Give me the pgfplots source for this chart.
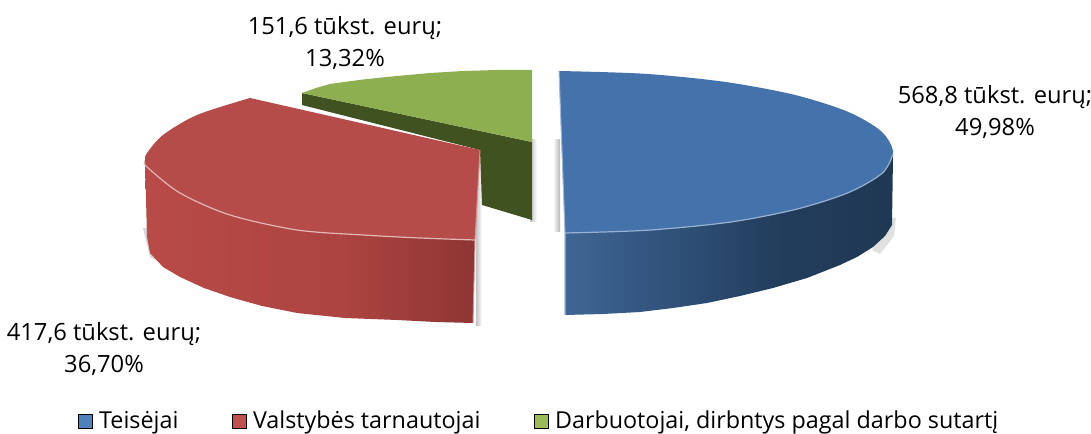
\documentclass[border=0pt]{standalone}
\usepackage{pgfplots}
\pgfplotsset{compat=1.18}
\usepackage{fontspec}
\setmainfont{Open Sans}
\definecolor{bTop}{HTML}{4472AB}
\definecolor{bS1}{HTML}{3F6694}
\definecolor{bS2}{HTML}{2F5078}
\definecolor{bS3}{HTML}{223D5C}
\definecolor{bS4}{HTML}{1F3853}
\definecolor{rTop}{HTML}{B64C49}
\definecolor{rS1}{HTML}{B84A47}
\definecolor{rS2}{HTML}{AC4441}
\definecolor{rS3}{HTML}{8E3533}
\definecolor{gTop}{HTML}{8EAF50}
\definecolor{gSide}{HTML}{3F5220}
\definecolor{lgB}{HTML}{4F81BD}
\definecolor{lgR}{HTML}{C0504D}
\definecolor{lgG}{HTML}{9BBB59}
\pgfdeclarehorizontalshading{blueside}{100bp}{color(0bp)=(bS1); color(25bp)=(bS1); color(42bp)=(bS2); color(58bp)=(bS3); color(75bp)=(bS4); color(100bp)=(bS4)}
\pgfdeclarehorizontalshading{redside}{100bp}{color(0bp)=(rS1); color(25bp)=(rS1); color(55bp)=(rS2); color(75bp)=(rS3); color(100bp)=(rS3)}
\begin{document}
\begin{tikzpicture}
\begin{axis}[
  scale only axis, width=818.25pt, height=325.5pt,
  xmin=0, xmax=1091, ymin=0, ymax=434, y dir=reverse,
  hide axis, clip=false,
  legend columns=3,
  legend style={draw=none, fill=none, inner sep=0pt, outer sep=0pt,
    at={(axis cs:78,433.5)}, anchor=south west, font=\fontsize{17.5}{21}\selectfont,
    /tikz/every even column/.style={column sep=38pt},
    /tikz/every odd column/.style={column sep=0pt}},
  legend cell align=left,
  legend image code/.code={\fill[#1] (0pt,-5.25pt) rectangle (10.5pt,5.25pt); \path (13.5pt,0pt);},
]
% soft shadows
\addplot[draw=none, shade, left color=white, right color=black!28, forget plot] coordinates {(553,140)(560,140)(560,232)(553,232)};
\addplot[draw=none, fill=black!12, forget plot] coordinates {(888,218)(896,218)(894,236)(880,254)(872,250)};
\addplot[draw=none, shade, left color=black!24, right color=white, forget plot] coordinates {(476,150)(482,150)(482,325)(476,325)};
\addplot[draw=none, shade, left color=black!24, right color=white, forget plot] coordinates {(530,140)(537,140)(537,222)(530,222)};
\addplot[draw=none, fill=black!16, forget plot] coordinates {(143,228)(150,228)(165,265)(150,257)};
% green slice
\addplot[draw=none, fill=gSide, forget plot] coordinates {(302,93)(532,142)(532,220)(482,205)(480,150)(302,105)};
\addplot[draw=none, fill=gTop, forget plot] coordinates {(302,93)(316,88)(330,84)(363,79.5)(397,76)(430,73)(463,71)(497,70)(532,70)(532,142)};
% blue slice
\addplot[draw=none, shade, shading=blueside, forget plot] coordinates {(893,155)(892,225)(885,236)(873,247)(857,257)(840,265)(807,278)(773,288)(740,296)(707,303)(673,308)(640,312)(603,314)(565,315)(565,233)};
\addplot[draw=none, fill=bTop, smooth, forget plot] coordinates {(559,71)(644.8,73.8)(724.9,81.9)(793.9,94.7)(847.2,111.5)(880.9,131)(893,152)(882.5,173)(848.7,192.5)(796.1,209.3)(730.1,222.1)(647.7,230.2)(565,233)};
\addplot[color=bTop!55!white, line width=0.9pt, smooth, forget plot] coordinates {(893,154)(882.5,173)(848.7,192.5)(796.1,209.3)(730.1,222.1)(647.7,230.2)(565,233)};
\addplot[color=bTop!50!white, line width=0.8pt, forget plot] coordinates {(559,71)(565,233)(565,315)};
% red slice
\addplot[draw=none, shade, shading=redside, forget plot] coordinates {(145,160)(147,237)(150,253)(163,267)(180,277)(204,288)(230,297)(262,306)(297,313)(345,318)(397,320)(435,322)(473,323)(475,240)};
\addplot[draw=none, fill=rTop, smooth, forget plot] coordinates {(250,98)(197,115)(163,135)(147,153)(145,160)(147,167)(180,193)(230,215)(297,230)(363,235)(420,238)(475,240)};
\addplot[draw=none, fill=rTop, forget plot] coordinates {(250,98)(480,150)(475,240)(240,150)};
\addplot[color=rTop!40!white, line width=0.9pt, smooth, forget plot] coordinates {(145,162)(147,167)(180,193)(230,215)(297,230)(363,235)(420,238)(475,240)};
\addplot[color=rTop!60!white, line width=0.7pt, forget plot] coordinates {(480,150)(475,240)(473,323)};
% legend
\addlegendimage{fill=lgB}
\addlegendentry{Teisėjai}
\addlegendimage{fill=lgR}
\addlegendentry{Valstybės tarnautojai}
\addlegendimage{fill=lgG}
\addlegendentry{Darbuotojai, dirbntys pagal darbo sutartį}
% labels
\node[font=\fontsize{17.8}{24}\selectfont, align=center, inner sep=0pt] at (axis cs:995,112) {568,8 tūkst. eurų;\\49,98\%};
\node[font=\fontsize{17.8}{24}\selectfont, align=center, inner sep=0pt] at (axis cs:345,43) {151,6 tūkst. eurų;\\13,32\%};
\node[font=\fontsize{17.8}{24}\selectfont, align=center, inner sep=0pt] at (axis cs:104,349) {417,6 tūkst. eurų;\\36,70\%};
\end{axis}
\pgfresetboundingbox
\path[use as bounding box] (0,0) rectangle (818.25pt,325.5pt);
\end{tikzpicture}
\end{document}
